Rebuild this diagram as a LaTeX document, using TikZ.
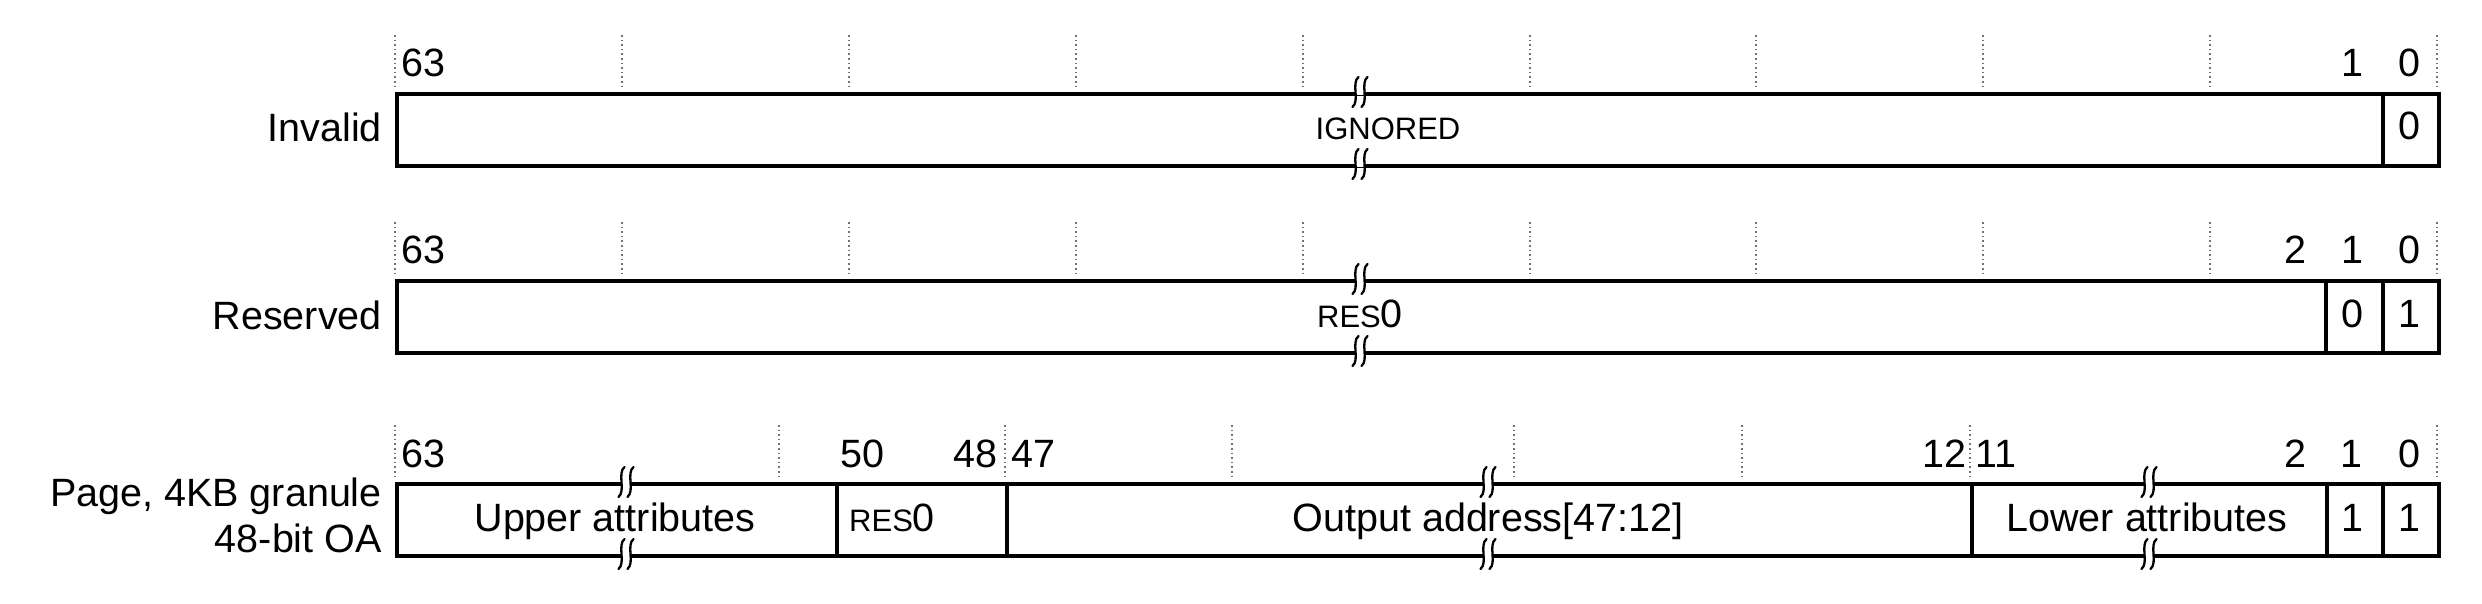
\documentclass[tikz,border=0pt]{standalone}
\usepackage{fontspec}
\setmainfont{Liberation Sans}
\newcommand\bigf{\fontsize{39.5}{47}\selectfont}
\newcommand\smf{\fontsize{31}{37}\selectfont}
\begin{document}
\begin{tikzpicture}[x=1pt,y=-1pt,
  field/.style={draw, line width=3.6pt, rectangle, inner sep=0pt, anchor=north west, minimum height=72pt},
  lbl/.style={font=\bigf, inner sep=0pt, anchor=base},
  lblw/.style={lbl, anchor=base west},
  lble/.style={lbl, anchor=base east},
  gridline/.style={draw=black!55, line width=1.2pt, dash pattern=on 1.6pt off 3pt},
  brkmark/.pic={
    \fill[white] (-4.5,-3.5) rectangle (4.5,3.5);
    \foreach \c in {-4.5,4.5}
      \draw[line width=2.3pt, line cap=round] (\c+3,-15) .. controls (\c-4.5,-9) and (\c+4.5,9) .. (\c-3,15);
  }]
\useasboundingbox (0,0) rectangle (2482,604);
% grid lines
\foreach \x in {395,622,849,1076,1303,1530,1756,1983,2210,2437} {
  \draw[gridline] (\x,35) -- (\x,88);
  \draw[gridline] (\x,222) -- (\x,275);
}
\foreach \x in {395,779,1005,1232,1514,1742,1970,2437}
  \draw[gridline] (\x,425) -- (\x,478);
% row 1
\node[field, minimum width=1986pt] (r1a) at (395,92) {};
\node[field, minimum width=56pt] (r1b) at (2381,92) {};
\node[lble] (n1) at (382,142) {Invalid};
\node[lblw] (b1a) at (401,77) {63};
\node[lbl] (b1b) at (2352,77) {1};
\node[lbl] (b1c) at (2409,77) {0};
\node[lbl, font=\smf] (t1a) at (1388,140) {IGNORED};
\node[lbl] (t1b) at (2409,140) {0};
% row 2
\node[field, minimum width=1929pt] (r2a) at (395,279) {};
\node[field, minimum width=57pt] (r2b) at (2324,279) {};
\node[field, minimum width=56pt] (r2c) at (2381,279) {};
\node[lble] (n2) at (382,329) {Reserved};
\node[lblw] (b2a) at (401,263) {63};
\node[lbl] (b2b) at (2295,263) {2};
\node[lbl] (b2c) at (2352,263) {1};
\node[lbl] (b2d) at (2409,263) {0};
\node[lbl] (t2a) at (1360,327) {{\smf RES}0};
\node[lbl] (t2b) at (2352,327) {0};
\node[lbl] (t2c) at (2409,327) {1};
% row 3
\node[field, minimum width=440pt] (r3a) at (395,482) {};
\node[field, minimum width=170pt] (r3b) at (835,482) {};
\node[field, minimum width=965pt] (r3c) at (1005,482) {};
\node[field, minimum width=355pt] (r3d) at (1970,482) {};
\node[field, minimum width=56pt] (r3e) at (2325,482) {};
\node[field, minimum width=56pt] (r3f) at (2381,482) {};
\node[lble] (n3a) at (382,506) {Page, 4KB granule};
\node[lble] (n3b) at (382,552) {48-bit OA};
\node[lblw] (b3a) at (401,467) {63};
\node[lblw] (b3b) at (840,467) {50};
\node[lble] (b3c) at (998,467) {48};
\node[lblw] (b3d) at (1011,467) {47};
\node[lble] (b3e) at (1967,467) {12};
\node[lblw] (b3f) at (1975,467) {11};
\node[lbl] (b3g) at (2295,467) {2};
\node[lbl] (b3h) at (2351,467) {1};
\node[lbl] (b3i) at (2409,467) {0};
\node[lbl] (t3a) at (615,531) {Upper attributes};
\node[lblw] (t3b) at (849,531) {{\smf RES}0};
\node[lbl] (t3c) at (1488,531) {Output address[47:12]};
\node[lbl] (t3d) at (2147,531) {Lower attributes};
\node[lbl] (t3e) at (2352,531) {1};
\node[lbl] (t3f) at (2409,531) {1};
% break marks
\foreach \bx/\by in {1360/92,1360/164,1360/279,1360/351,626/482,626/554,1488/482,1488/554,2149/482,2149/554}
  \pic at (\bx,\by) {brkmark};
\end{tikzpicture}
\end{document}
